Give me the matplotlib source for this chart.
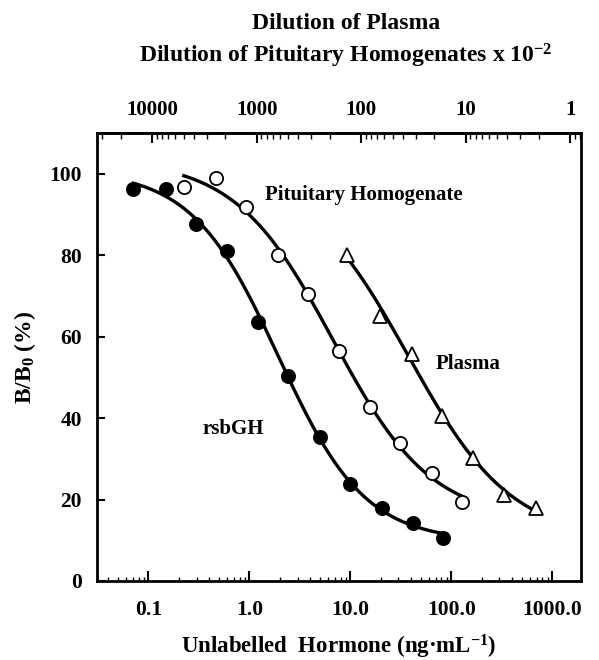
import numpy as np
import matplotlib
matplotlib.use("Agg")
import matplotlib.pyplot as plt
from matplotlib.ticker import LogLocator, FixedLocator, NullFormatter, FixedFormatter

plt.rcParams["font.family"] = ["Liberation Serif", "DejaVu Serif"]
plt.rcParams["font.weight"] = "bold"
plt.rcParams["axes.labelweight"] = "bold"
plt.rcParams["mathtext.fontset"] = "custom"
plt.rcParams["mathtext.default"] = "regular"

# rsbGH standard (filled circles)
gh_x = [0.071, 0.151, 0.298, 0.605, 1.23, 2.42, 5.0, 10.0, 20.5, 42.0, 83.0]
gh_y = [96.3, 96.3, 87.7, 81.0, 63.7, 50.4, 35.3, 23.7, 18.0, 14.3, 10.6]

# pituitary homogenate (open circles)
pit_x = [0.224, 0.471, 0.933, 1.905, 3.84, 7.66, 15.5, 31.3, 64.4, 129.0]
pit_y = [96.8, 99.0, 91.9, 80.1, 70.4, 56.4, 42.6, 34.0, 26.6, 19.3]

# plasma (open triangles)
pl_x = [9.27, 19.8, 40.8, 80.9, 164.0, 335.0, 689.0]
pl_y = [80.1, 65.1, 55.8, 40.6, 30.3, 21.2, 17.9]

y_ticks = [0, 20, 40, 60, 80, 100]
x_ticks = [0.1, 1.0, 10.0, 100.0, 1000.0]
x_labels = ["0.1", "1.0", "10.0", "100.0", "1000.0"]
dil_ticks = [10000, 1000, 100, 10, 1]
dil_labels = ["10000", "1000", "100", "10", "1"]


def logistic(p, lx):
    return p[1] + (p[0] - p[1]) / (1 + 10 ** (p[3] * (lx - p[2])))


def fit_4pl(x, y):
    # small Levenberg-Marquardt fit of a 4-parameter logistic in log10(x)
    lx = np.log10(x)
    y = np.asarray(y)
    p = np.array([y.max(), y.min(), np.median(lx), 1.0])
    lam = 1e-2
    for _ in range(300):
        r = y - logistic(p, lx)
        J = np.empty((len(lx), 4))
        for k in range(4):
            dp = np.zeros(4)
            dp[k] = 1e-6
            J[:, k] = (logistic(p + dp, lx) - logistic(p - dp, lx)) / 2e-6
        A = J.T @ J
        step = np.linalg.solve(A + lam * np.diag(np.diag(A)) + 1e-9 * np.eye(4), J.T @ r)
        new = p + step
        if np.sum((y - logistic(new, lx)) ** 2) < np.sum(r ** 2):
            p = new
            lam *= 0.3
        else:
            lam *= 10
    return p


fig = plt.figure(figsize=(5.99, 6.60), dpi=100)
ax = fig.add_axes([0.162, 0.1197, 0.808, 0.6788])

for xs, ys, mk, fc in [(gh_x, gh_y, "o", "black"),
                       (pit_x, pit_y, "o", "white"),
                       (pl_x, pl_y, "^", "white")]:
    p = fit_4pl(xs, ys)
    lx = np.linspace(np.log10(xs[0]), np.log10(xs[-1]), 200)
    ax.plot(10 ** lx, logistic(p, lx), color="black", lw=2.4, zorder=2)
    ax.plot(xs, ys, ls="none", marker=mk, ms=9.5, mfc=fc, mec="black", mew=1.3, zorder=3)

ax.set_xscale("log")
ax.set_xlim(0.031, 1930)
ax.set_ylim(0, 110)
ax.set_yticks(y_ticks)
ax.xaxis.set_major_locator(FixedLocator(x_ticks))
ax.xaxis.set_major_formatter(FixedFormatter(x_labels))
ax.xaxis.set_minor_locator(LogLocator(base=10, subs=np.arange(2, 10), numticks=20))
ax.xaxis.set_minor_formatter(NullFormatter())
ax.tick_params(axis="x", which="major", direction="in", length=7, width=1.5, pad=14, labelsize=15.5)
ax.tick_params(axis="x", which="minor", direction="in", length=3, width=1.0)
ax.tick_params(axis="y", direction="in", length=6, width=1.5, pad=11, labelsize=15.5)
for s in ax.spines.values():
    s.set_linewidth(2)

# top axis: dilution, running opposite to concentration
a, b = 4 / 4.14, 3.07
top = ax.secondary_xaxis("top", functions=(lambda x: 10 ** (b - a * np.log10(np.clip(x, 1e-12, None))),
                                           lambda d: 10 ** ((b - np.log10(np.clip(d, 1e-12, None))) / a)))
top.xaxis.set_major_locator(FixedLocator(dil_ticks))
top.xaxis.set_major_formatter(FixedFormatter(dil_labels))
top.xaxis.set_minor_locator(LogLocator(base=10, subs=np.arange(2, 10), numticks=20))
top.xaxis.set_minor_formatter(NullFormatter())
top.tick_params(axis="x", which="major", direction="in", length=7, width=1.5, pad=9, labelsize=15)
top.tick_params(axis="x", which="minor", direction="in", length=4, width=1.0)
top.spines["top"].set_linewidth(2)

ax.set_xlabel("Unlabelled  Hormone (ng·mL$^{-1}$)", fontsize=16.5, labelpad=9)
ax.set_ylabel("B/B$_0$ (%)", fontsize=17, labelpad=8)

ax.text(1.44, 94.8, "Pituitary Homogenate", fontsize=15, va="center")
ax.text(69.5, 53.3, "Plasma", fontsize=15, va="center")
ax.text(0.343, 37.3, "rsbGH", fontsize=15, va="center")

fig.text(0.578, 0.965, "Dilution of Plasma", ha="center", va="center", fontsize=17)
fig.text(0.577, 0.915, "Dilution of Pituitary Homogenates x 10$^{-2}$", ha="center", va="center", fontsize=17)

fig.savefig("out.png", dpi=100)
